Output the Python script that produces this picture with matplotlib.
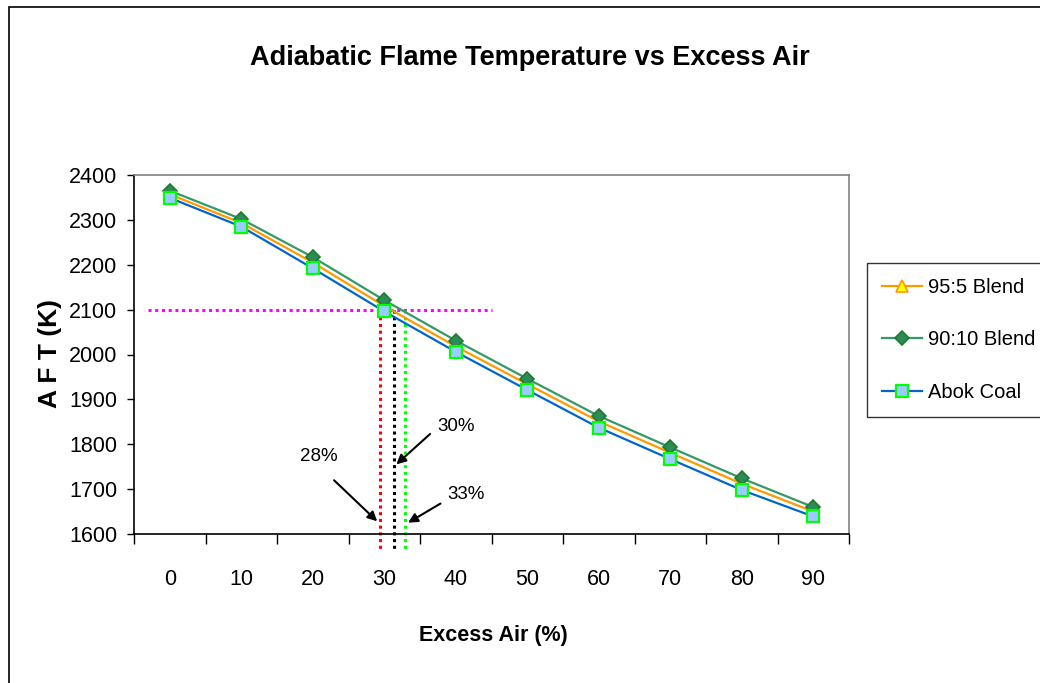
import matplotlib
matplotlib.use("Agg")
import matplotlib.pyplot as plt
from matplotlib import font_manager
from matplotlib.patches import Rectangle
from matplotlib.ticker import FixedLocator, NullFormatter, FixedFormatter

# ---- data ----
excess_air = [0, 10, 20, 30, 40, 50, 60, 70, 80, 90]
blend_95_5 = [2357, 2293, 2205, 2108, 2018, 1934, 1851, 1781, 1712, 1650]
blend_90_10 = [2365, 2302, 2217, 2121, 2031, 1946, 1863, 1793, 1724, 1660]
abok_coal = [2349, 2285, 2192, 2096, 2006, 1921, 1837, 1767, 1698, 1639]
series_names = ["95:5 Blend", "90:10 Blend", "Abok Coal"]
y_ticks = [1600, 1700, 1800, 1900, 2000, 2100, 2200, 2300, 2400]
target_temp = 2100
marker_labels = ["28%", "30%", "33%"]

names = {f.name for f in font_manager.fontManager.ttflist}
fam = "Liberation Sans Narrow" if "Liberation Sans Narrow" in names else "Liberation Sans"
plt.rcParams['font.family'] = [fam, 'DejaVu Sans']

fig = plt.figure(figsize=(10.4, 6.83), dpi=100)
W, H = 1040, 683

# outer chart border (only left/top visible)
fig.patches.append(Rectangle((9 / W, -0.2), 1.3, 1.2 - 7 / H, transform=fig.transFigure,
                             fill=False, edgecolor='black', linewidth=1.2))

ax = fig.add_axes([134 / W, 1 - 534 / H, (849 - 134) / W, (534 - 175) / H])
n = len(excess_air)
idx = list(range(n))

ax.plot(idx, blend_95_5, color='#FF9900', linewidth=1.6, marker='^', markersize=9,
        markerfacecolor='#FFFF00', markeredgecolor='#FF9900', markeredgewidth=1.2,
        label=series_names[0], zorder=3)
ax.plot(idx, blend_90_10, color='#339966', linewidth=1.6, marker='D', markersize=7.5,
        markerfacecolor='#2E8B57', markeredgecolor='#1E7B2E', markeredgewidth=1.2,
        label=series_names[1], zorder=4)
ax.plot(idx, abok_coal, color='#0066CC', linewidth=1.6, marker='s', markersize=8.5,
        markerfacecolor='#99CCFF', markeredgecolor='#00FF00', markeredgewidth=1.6,
        label=series_names[2], zorder=5)

ax.set_xlim(-0.5, n - 0.5)
ax.set_ylim(1600, 2400)

# guide lines
ax.plot([-0.3, 4.5], [target_temp, target_temp], color='#FF00FF', linestyle=(0, (1, 1.2)),
        linewidth=2.2, zorder=2, clip_on=False)
for xv, col in [(2.94, '#FF0000'), (3.13, '#000000'), (3.29, '#00FF00')]:
    ax.plot([xv, xv], [target_temp, 1563], color=col, linestyle=(0, (1, 1.2)),
            linewidth=2.2, zorder=2, clip_on=False)

# annotations
arrow = dict(arrowstyle='-|>', color='black', lw=1.5, mutation_scale=14)
ax.annotate("", xy=(2.93, 1624), xytext=(2.27, 1724), arrowprops=arrow, annotation_clip=False)
ax.annotate("", xy=(3.14, 1751), xytext=(3.67, 1827), arrowprops=arrow, annotation_clip=False)
ax.annotate("", xy=(3.30, 1622), xytext=(3.82, 1671), arrowprops=arrow, annotation_clip=False)
ax.text(2.09, 1773, marker_labels[0], fontsize=13.5, ha='center', va='center')
ax.text(4.00, 1840, marker_labels[1], fontsize=13.5, ha='center', va='center')
ax.text(4.14, 1687, marker_labels[2], fontsize=13.5, ha='center', va='center')

# axes styling
for s in ['top', 'right']:
    ax.spines[s].set_color('#808080')
    ax.spines[s].set_linewidth(1.2)
for s in ['left', 'bottom']:
    ax.spines[s].set_color('black')
    ax.spines[s].set_linewidth(1.2)

ax.set_yticks(y_ticks)
ax.set_yticklabels([str(v) for v in y_ticks])
ax.tick_params(axis='y', direction='out', length=5, width=1.0, pad=7, labelsize=15.5)

ax.xaxis.set_major_locator(FixedLocator([i - 0.5 for i in range(n + 1)]))
ax.xaxis.set_major_formatter(NullFormatter())
ax.xaxis.set_minor_locator(FixedLocator(idx))
ax.xaxis.set_minor_formatter(FixedFormatter([str(v) for v in excess_air]))
ax.tick_params(axis='x', which='major', direction='out', length=7, width=1.0)
ax.tick_params(axis='x', which='minor', length=0, pad=25, labelsize=15.5)

# texts
fig.text(530 / W, 1 - 58 / H, "Adiabatic Flame Temperature vs Excess Air",
         fontsize=19.5, fontweight='bold', ha='center', va='center')
fig.text(493 / W, 1 - 635 / H, "Excess Air (%)", fontsize=15.5, fontweight='bold',
         ha='center', va='center')
fig.text(50 / W, 1 - 354 / H, "A F T (K)", fontsize=19, fontweight='bold',
         ha='center', va='center', rotation=90)

leg = fig.legend(loc='upper left', bbox_to_anchor=(867 / W, 1 - 263 / H),
                 fontsize=14.5, frameon=True, fancybox=False, edgecolor='black',
                 borderpad=0.75, labelspacing=1.65, handlelength=2.0, handletextpad=0.3,
                 borderaxespad=0)
leg.get_frame().set_linewidth(1.0)

fig.savefig("out.png", dpi=100)
